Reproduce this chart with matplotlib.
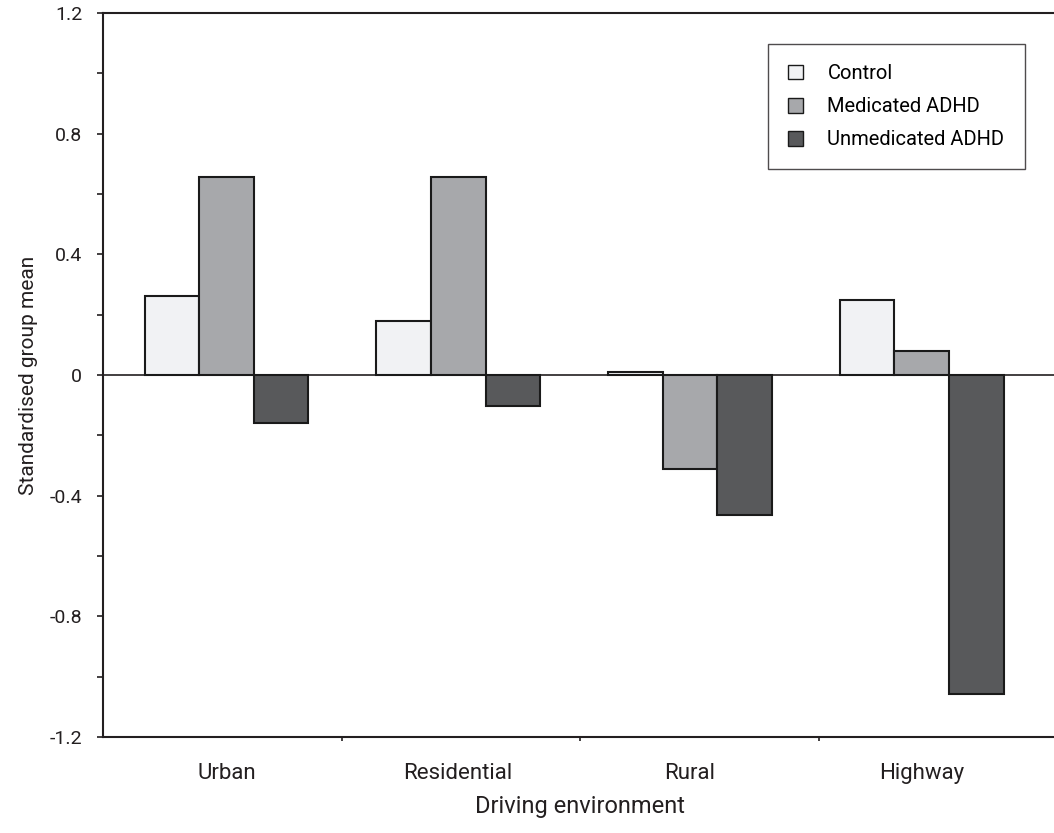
import numpy as np
import matplotlib
matplotlib.use('Agg')
import matplotlib.pyplot as plt

plt.rcParams['font.family'] = ['Roboto', 'DejaVu Sans']

# dados
ambientes = ['Urban', 'Residential', 'Rural', 'Highway']
grupos = ['Control', 'Medicated ADHD', 'Unmedicated ADHD']
control = [0.263, 0.18, 0.009, 0.247]
medicated = [0.658, 0.658, -0.311, 0.081]
unmedicated = [-0.158, -0.104, -0.463, -1.059]
cores = ['#f1f2f4', '#a7a8ab', '#58595b']

fig = plt.figure(figsize=(10.54, 8.33), dpi=100)
ax = fig.add_axes([103/1054, 1 - 737/833, 954/1054, 724/833])

# centros dos grupos (levemente deslocados das divisoes do eixo, como no original)
centros = 0.518 + np.arange(len(ambientes)) * 0.9715
largura = 0.229

for k, (vals, cor, nome) in enumerate(zip([control, medicated, unmedicated], cores, grupos)):
    ax.bar(centros + (k - 1) * largura, vals, largura, color=cor,
           edgecolor='#1a1a1a', linewidth=1.5, label=nome, zorder=3)

ax.axhline(0, color='#231f20', linewidth=1.2, zorder=2)

ax.set_xlim(0, 4)
ax.set_ylim(-1.2, 1.2)
ax.set_yticks(np.arange(-1.2, 1.21, 0.4))
ax.set_yticklabels(['-1.2', '-0.8', '-0.4', '0', '0.4', '0.8', '1.2'])
ax.set_yticks(np.arange(-1.0, 1.01, 0.4), minor=True)
ax.tick_params(axis='y', which='both', direction='out', length=4, width=1.2,
               labelsize=14, pad=11, color='#231f20', labelcolor='#231f20')

ax.set_xticks(centros)
ax.set_xticklabels(ambientes, fontsize=16, color='#231f20')
ax.set_xticks([1, 2, 3], minor=True)
ax.tick_params(axis='x', which='major', length=0, pad=19)
ax.tick_params(axis='x', which='minor', direction='out', length=3, width=1.2, color='#231f20')

for lado in ['left', 'bottom', 'top']:
    ax.spines[lado].set_linewidth(1.5)
    ax.spines[lado].set_color('#231f20')
ax.spines['right'].set_visible(False)

ax.set_ylabel('Standardised group mean', fontsize=15, labelpad=8, color='#231f20')
ax.set_xlabel('Driving environment', fontsize=17, labelpad=8, color='#231f20')

leg = ax.legend(loc='upper left', bbox_to_anchor=(768/1054, 1 - 44/833),
                bbox_transform=fig.transFigure, fontsize=14.5, frameon=True,
                fancybox=False, handlelength=0.75, handleheight=0.75,
                handletextpad=1.2, labelspacing=0.7, borderpad=1.0,
                borderaxespad=0)
leg.get_frame().set_edgecolor('#231f20')
leg.get_frame().set_linewidth(1.0)
for h in leg.legend_handles:
    h.set_linewidth(1.0)

fig.savefig('out.png', dpi=100)
